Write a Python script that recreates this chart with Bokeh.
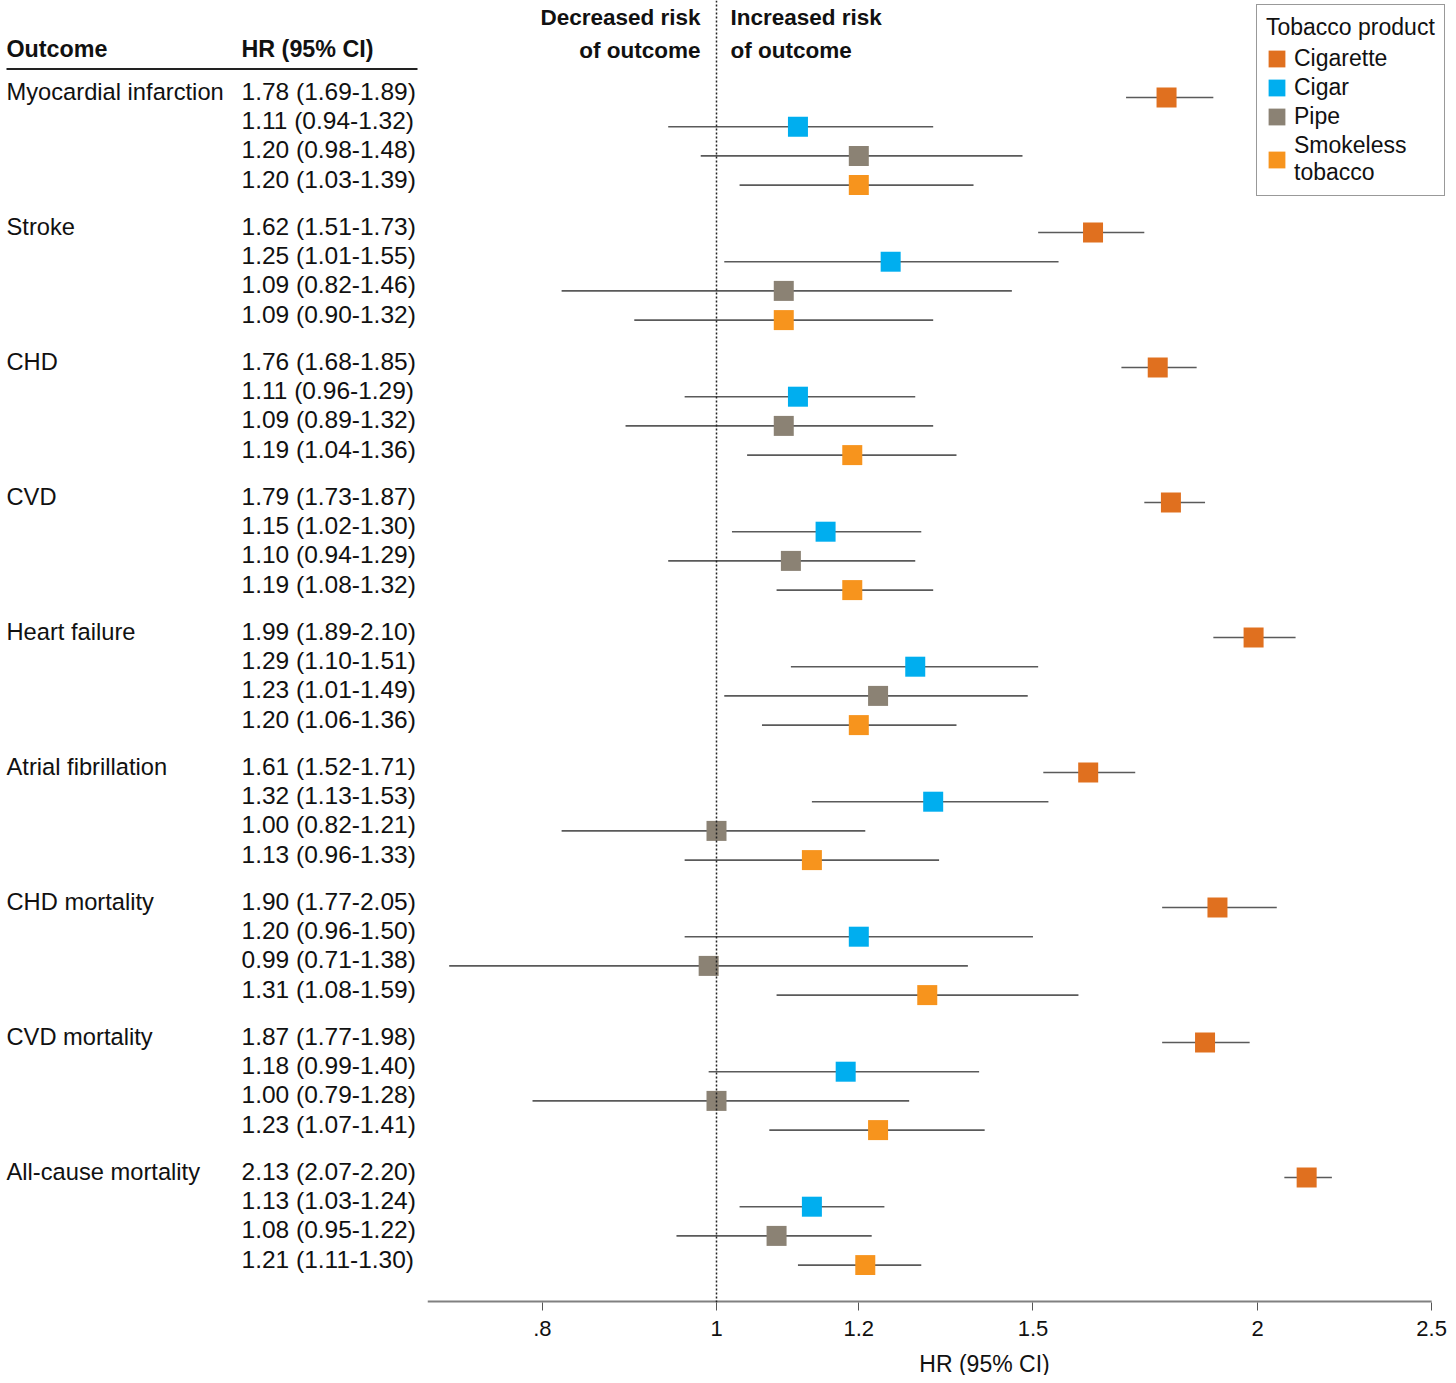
import math
from bokeh.plotting import figure
from bokeh.models import (Range1d, ColumnDataSource, FixedTicker, Span, Legend,
                          LegendItem)
from bokeh.layouts import row, column
from bokeh.core.properties import value
from bokeh.embed import file_html
from bokeh.resources import INLINE

# ---------------- data ----------------
outcomes = ["Myocardial infarction", "Stroke", "CHD", "CVD", "Heart failure",
            "Atrial fibrillation", "CHD mortality", "CVD mortality",
            "All-cause mortality"]
products = ["Cigarette", "Cigar", "Pipe", "Smokeless tobacco"]
legend_labels = ["Cigarette", "Cigar", "Pipe", "Smokeless\ntobacco"]
colors = ["#E0701F", "#00AEEF", "#8B8274", "#F7941D"]

cigarette_hr = [1.78, 1.62, 1.76, 1.79, 1.99, 1.61, 1.90, 1.87, 2.13]
cigarette_lo = [1.69, 1.51, 1.68, 1.73, 1.89, 1.52, 1.77, 1.77, 2.07]
cigarette_hi = [1.89, 1.73, 1.85, 1.87, 2.10, 1.71, 2.05, 1.98, 2.20]

cigar_hr = [1.11, 1.25, 1.11, 1.15, 1.29, 1.32, 1.20, 1.18, 1.13]
cigar_lo = [0.94, 1.01, 0.96, 1.02, 1.10, 1.13, 0.96, 0.99, 1.03]
cigar_hi = [1.32, 1.55, 1.29, 1.30, 1.51, 1.53, 1.50, 1.40, 1.24]

pipe_hr = [1.20, 1.09, 1.09, 1.10, 1.23, 1.00, 0.99, 1.00, 1.08]
pipe_lo = [0.98, 0.82, 0.89, 0.94, 1.01, 0.82, 0.71, 0.79, 0.95]
pipe_hi = [1.48, 1.46, 1.32, 1.29, 1.49, 1.21, 1.38, 1.28, 1.22]

smokeless_hr = [1.20, 1.09, 1.19, 1.19, 1.20, 1.13, 1.31, 1.23, 1.21]
smokeless_lo = [1.03, 0.90, 1.04, 1.08, 1.06, 0.96, 1.08, 1.07, 1.11]
smokeless_hi = [1.39, 1.32, 1.36, 1.32, 1.36, 1.33, 1.59, 1.41, 1.30]

tick_values = [0.8, 1, 1.2, 1.5, 2, 2.5]
tick_labels = [".8", "1", "1.2", "1.5", "2", "2.5"]

series = [
    (cigarette_hr, cigarette_lo, cigarette_hi),
    (cigar_hr, cigar_lo, cigar_hi),
    (pipe_hr, pipe_lo, pipe_hi),
    (smokeless_hr, smokeless_lo, smokeless_hi),
]

# ---------------- layout ----------------
FONT = "Liberation Sans"
TOTAL_W, TOTAL_H = 1448, 1375
LEFT_W = 427
RIGHT_W = TOTAL_W - LEFT_W
TOP_H = 1346                      # height of the main row
FRAME_BOTTOM = 1302               # px of x axis line
BOTTOM_BORDER = TOP_H - FRAME_BOTTOM

ROW_PX = 29.2
GROUP = 135.0 / ROW_PX            # group step in row units
FIRST_PX = 97.0                   # first marker centre px

def rpos(px):
    return (px - FIRST_PX) / ROW_PX

yr = Range1d(start=rpos(FRAME_BOTTOM), end=rpos(0))

# log x-scale anchored: HR=1 at px 716, HR=2 at px 1257
PX_ONE, PX_TWO = 716.0, 1257.0
ppu = (PX_TWO - PX_ONE) / math.log(2.0)
x_start = math.exp(-(PX_ONE - LEFT_W) / ppu)
x_end = math.exp((TOTAL_W - PX_ONE) / ppu)

TXT = "#111111"

# ---------------- left table ----------------
left = figure(width=LEFT_W, height=TOP_H, x_range=Range1d(0, LEFT_W), y_range=yr,
              x_axis_location=None, y_axis_location=None,
              output_backend="svg", toolbar_location=None,
              min_border_left=0, min_border_right=0, min_border_top=0,
              min_border_bottom=BOTTOM_BORDER)
left.outline_line_color = None
left.grid.visible = False

lab_y, lab_t = [], []
num_y, num_t = [], []
for g, name in enumerate(outcomes):
    lab_y.append(g * GROUP)
    lab_t.append(name)
    for i, (hr, lo, hi) in enumerate(series):
        num_y.append(g * GROUP + i)
        num_t.append(f"{hr[g]:.2f} ({lo[g]:.2f}-{hi[g]:.2f})")

left.text(x=[6] * len(lab_y), y=lab_y, text=lab_t, text_font=value(FONT),
          text_font_size="23.7px", text_baseline="middle", text_align="left",
          y_offset=-6, text_color=TXT)
left.text(x=[241] * len(num_y), y=num_y, text=num_t, text_font=value(FONT),
          text_font_size="24.5px", text_baseline="middle", text_align="left",
          y_offset=-6, text_color=TXT)
left.text(x=[6, 241], y=[rpos(48.5), rpos(48.5)], text=["Outcome", "HR (95% CI)"],
          text_font=value(FONT), text_font_size="23.3px", text_font_style="bold",
          text_baseline="middle", text_align="left", text_color=TXT)
left.segment(x0=[6], x1=[417], y0=[rpos(68.5)], y1=[rpos(68.5)],
             line_color="#222222", line_width=2)

# ---------------- right forest plot ----------------
p = figure(width=RIGHT_W, height=TOP_H, x_axis_type="log",
           x_range=Range1d(x_start, x_end), y_range=yr, y_axis_location=None,
           output_backend="svg", toolbar_location=None,
           min_border_left=0, min_border_right=0, min_border_top=0,
           min_border_bottom=BOTTOM_BORDER)
p.outline_line_color = None
p.grid.visible = False

p.add_layout(Span(location=1, dimension="height", line_color="#222222",
                  line_width=1.5, line_dash="2 2"))

# axis line drawn only up to the last tick
p.segment(x0=[x_start], x1=[tick_values[-1]], y0=[rpos(FRAME_BOTTOM)],
          y1=[rpos(FRAME_BOTTOM)], line_color="#808080", line_width=4)

items = []
for k, (hr, lo, hi) in enumerate(series):
    ys = [g * GROUP + k for g in range(len(outcomes))]
    src = ColumnDataSource(dict(hr=hr, lo=lo, hi=hi, y=ys))
    p.segment(x0="lo", x1="hi", y0="y", y1="y", source=src,
              line_color="#5a5a5a", line_width=1.6)
    r = p.rect(x="hr", y="y", width=20, height=20, width_units="screen",
               height_units="screen", source=src, fill_color=colors[k],
               line_color=None)
    items.append(LegendItem(label=legend_labels[k], renderers=[r]))

hdr = dict(text_font=value(FONT), text_font_size="22.5px", text_font_style="bold",
           text_baseline="middle", text_color=TXT)
p.text(x=[1, 1], y=[rpos(16.5), rpos(49.5)], text=["Decreased risk", "of outcome"],
       x_offset=-16, text_align="right", **hdr)
p.text(x=[1, 1], y=[rpos(16.5), rpos(49.5)], text=["Increased risk", "of outcome"],
       x_offset=14, text_align="left", **hdr)

ax = p.xaxis[0]
ax.ticker = FixedTicker(ticks=tick_values, minor_ticks=[])
ax.major_label_overrides = {v: l for v, l in zip(tick_values, tick_labels)}
ax.axis_line_color = None
ax.major_tick_line_color = "#555555"
ax.major_tick_line_width = 1
ax.major_tick_out = 8
ax.major_tick_in = 0
ax.minor_tick_line_color = None
ax.major_label_standoff = 10
ax.major_label_text_font = FONT
ax.major_label_text_font_size = "22px"
ax.major_label_text_color = TXT

legend = Legend(items=items, location=(829, FRAME_BOTTOM - 196),
                title="Tobacco product",
                title_text_font=FONT, title_text_font_size="23px",
                title_text_font_style="normal", title_text_color=TXT,
                title_standoff=4,
                label_text_font=FONT, label_text_font_size="23px",
                label_text_color=TXT, label_text_line_height=1.0,
                label_standoff=7, glyph_width=21, glyph_height=21,
                label_height=24, spacing=2, padding=9, margin=0,
                border_line_color="#333333", border_line_width=1.5,
                background_fill_color="white", background_fill_alpha=1.0)
p.add_layout(legend)

# ---------------- x axis title strip ----------------
bot_h = TOTAL_H - TOP_H
bot = figure(width=TOTAL_W, height=bot_h, x_range=Range1d(0, TOTAL_W),
             y_range=Range1d(0, bot_h), x_axis_location=None, y_axis_location=None,
             output_backend="svg", toolbar_location=None,
             min_border_left=0, min_border_right=0, min_border_top=0,
             min_border_bottom=0)
bot.outline_line_color = None
bot.grid.visible = False
bot.text(x=[984], y=[12], text=["HR (95% CI)"], text_font=value(FONT),
         text_font_size="23px", text_align="center", text_baseline="middle",
         text_color=TXT)

layout = column(row(left, p), bot)
open("out.html", "w").write(file_html(layout, INLINE))
